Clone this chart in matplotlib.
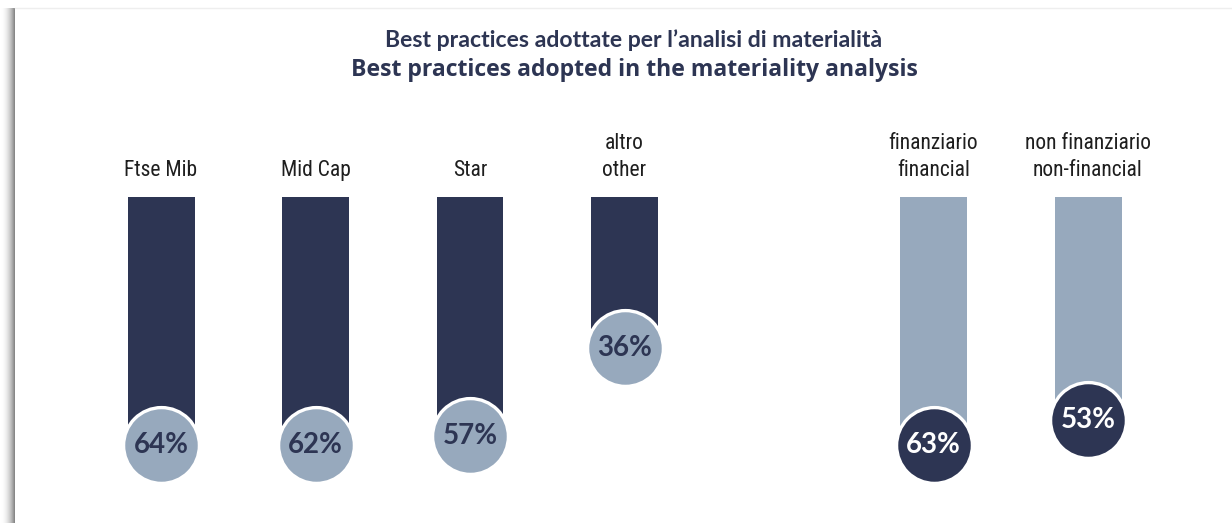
import matplotlib
matplotlib.use("Agg")
import matplotlib.pyplot as plt
import numpy as np

# ---- data ----
labels_it = ["Ftse Mib", "Mid Cap", "Star", "altro", "finanziario", "non finanziario"]
labels_en = ["", "", "", "other", "financial", "non-financial"]
values = [64, 62, 57, 36, 63, 53]
slots = [0, 1, 2, 3, 5, 6]
groups = ["index", "index", "index", "index", "sector", "sector"]
display_cap = 59  # reference drawing caps the bar length near this value

title_it = "Best practices adottate per l\u2019analisi di materialità"
title_en = "Best practices adopted in the materiality analysis"

DARK = "#2d3553"
LIGHT = "#97a9bd"

W, H, DPI = 1232, 523, 100
fig = plt.figure(figsize=(W / DPI, H / DPI), dpi=DPI)
fig.patch.set_facecolor("white")

# card shadow on left edge
sh = fig.add_axes([0, 0, 15 / W, (H - 8) / H])
g = np.linspace(0, 1, 64)[None, :]
shade = 1 - 0.5 * g ** 2.2
sh.imshow(shade, aspect="auto", cmap="gray", vmin=0, vmax=1, extent=[0, 1, 0, 1])
sh.axis("off")
fig.add_artist(plt.Line2D([15 / W, 1], [1 - 8 / H, 1 - 8 / H], color="#eeeeee", lw=1))

ax = fig.add_axes([0, 0, 1, 1])
ax.set_facecolor("none")
px_per_unit = 4.2
slot_px = 154.5
x0_px = 161
top_px = 197
ax.set_xlim(-x0_px / slot_px, (W - x0_px) / slot_px)
ax.set_ylim((H - top_px) / px_per_unit, -top_px / px_per_unit)
ax.axis("off")

bar_w = 67 / slot_px
for s, v, grp, l1, l2 in zip(slots, values, groups, labels_it, labels_en):
    barc = DARK if grp == "index" else LIGHT
    circ = LIGHT if grp == "index" else DARK
    tcol = DARK if grp == "index" else "white"
    yv = min(v, display_cap)
    ax.bar(s, yv, width=bar_w, bottom=0, color=barc, zorder=1)
    ax.scatter([s], [yv], s=2980, color=circ, edgecolor="white", linewidth=2.4, zorder=2)
    ax.text(s, yv, f"{v}%", ha="center", va="center", fontsize=20, fontweight="bold",
            color=tcol, family=["Lato", "DejaVu Sans"], zorder=3)
    lab = l1 if not l2 else l1 + "\n" + l2
    ax.text(s, -3.7, lab, ha="center", va="bottom", fontsize=15.5, color="#1e1e1e",
            family=["Roboto Condensed", "Liberation Sans Narrow", "Roboto", "DejaVu Sans"],
            linespacing=1.4)

fig.text(634 / W, 1 - 40 / H, title_it, ha="center", va="center", fontsize=16.6,
         fontweight="bold", color=DARK, family=["Lato", "DejaVu Sans"])
fig.text(634 / W, 1 - 70 / H, title_en, ha="center", va="center", fontsize=16.6,
         fontweight="bold", color=DARK, family=["Open Sans", "DejaVu Sans"])

fig.savefig("out.png", dpi=DPI, facecolor="white")
